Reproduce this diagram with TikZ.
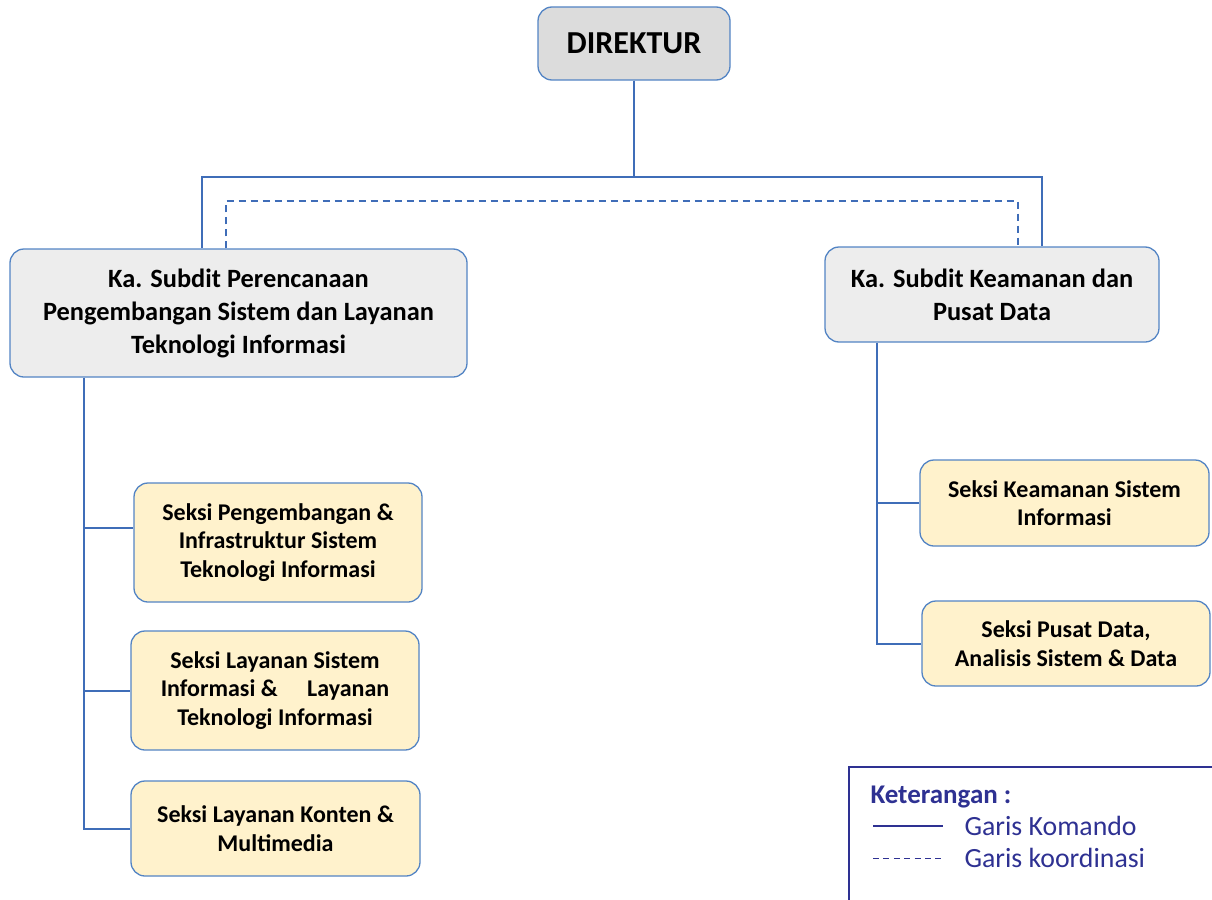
\documentclass[tikz,border=0pt]{standalone}
\usepackage{fontspec}
\setmainfont{Carlito}
\usepackage{xcolor}
\usetikzlibrary{shapes}

\definecolor{garis}{HTML}{3F6DB8}
\definecolor{tepi}{HTML}{5384C4}
\definecolor{abu}{HTML}{DCDCDC}
\definecolor{abumuda}{HTML}{EDEDED}
\definecolor{kuning}{HTML}{FFF2CC}
\definecolor{ungu}{HTML}{2E3192}

\tikzset{
	kotak/.style={draw=tepi,line width=1.3pt,rounded corners=14pt,inner sep=0pt,align=center,font=\bfseries},
	pimpinan/.style={kotak,fill=abu,font=\bfseries\fontsize{32}{38}\selectfont},
	subdit/.style={kotak,fill=abumuda,font=\bfseries\fontsize{26.4}{33}\selectfont},
	seksi/.style={kotak,fill=kuning,font=\bfseries\fontsize{24}{28.5}\selectfont},
	komando/.style={draw=garis,line width=2pt},
	koordinasi/.style={draw=garis,line width=1.6pt,dash pattern=on 7pt off 5pt}
}

\begin{document}
\begin{tikzpicture}[x=1pt,y=-1pt]
	\useasboundingbox (0,0) rectangle (1212,899);
	\node[pimpinan,minimum width=192pt,minimum height=73pt] (dir) at (634,43.5) {DIREKTUR};
	\node[subdit,minimum width=457pt,minimum height=128pt] (subA) at (238.5,313) {Ka. Subdit Perencanaan\\Pengembangan Sistem dan Layanan\\Teknologi Informasi};
	\node[subdit,minimum width=334pt,minimum height=95pt] (subB) at (992,294.5) {Ka. Subdit Keamanan dan\\Pusat Data};
	%
	%  SEKSI
	%
	\node[seksi,minimum width=288pt,minimum height=119pt] (sekA1) at (278,542.5) {Seksi Pengembangan \&\\Infrastruktur Sistem\\Teknologi Informasi};
	\node[seksi,minimum width=288pt,minimum height=119pt] (sekA2) at (275,690.5) {Seksi Layanan Sistem\\Informasi \&\hspace{1em} Layanan\\Teknologi Informasi};
	\node[seksi,minimum width=289pt,minimum height=95pt] (sekA3) at (275.5,828.5) {Seksi Layanan Konten \&\\Multimedia};
	\node[seksi,minimum width=289pt,minimum height=86pt] (sekB1) at (1064.5,503) {Seksi Keamanan Sistem\\Informasi};
	\node[seksi,minimum width=288pt,minimum height=85pt] (sekB2) at (1066,643.5) {Seksi Pusat Data,\\Analisis Sistem \& Data};
	%
	%  GARIS
	%
	\coordinate (busA) at (202,177);
	\coordinate (busB) at (1042,177);
	\coordinate (dashA) at (226,201);
	\coordinate (dashB) at (1018,201);
	\coordinate (trA) at (84,0);
	\coordinate (trB) at (877,0);
	\draw[komando] (dir.south) |- (busA) -- (busA |- subA.north);
	\draw[komando] (dir.south) |- (busB) -- (busB |- subB.north);
	\draw[koordinasi] (dashA |- subA.north) -- (dashA) -- (dashB) -- (dashB |- subB.north);
	\draw[komando] (trA |- subA.south) |- (sekA3.west);
	\draw[komando] (trA |- sekA1.west) ++(0,-15) -- ([yshift=15pt]sekA1.west);
	\draw[komando] (trA |- sekA2.west) -- (sekA2.west);
	\draw[komando] (trB |- subB.south) |- (sekB2.west);
	\draw[komando] (trB |- sekB1.west) -- (sekB1.west);
	%
	%  KETERANGAN
	%
	\node[draw=ungu,line width=1.6pt,minimum width=400pt,minimum height=160pt,anchor=north west] (ket) at (848,766) {};
	\node[anchor=west,text=ungu,font=\bfseries\fontsize{27}{32}\selectfont] (ketjudul) at (867,797) {Keterangan :};
	\node[anchor=west,text=ungu,font=\fontsize{27.8}{32}\selectfont] (ketA) at (961,826) {Garis Komando};
	\node[anchor=west,text=ungu,font=\fontsize{27.8}{32}\selectfont] (ketB) at (961,858) {Garis koordinasi};
	\coordinate (lgA1) at (873,826);
	\coordinate (lgA2) at (943,826);
	\coordinate (lgB1) at (873,858);
	\coordinate (lgB2) at (945,858);
	\draw[draw=ungu,line width=1.8pt] (lgA1) -- (lgA2);
	\draw[draw=ungu,line width=1pt,dash pattern=on 6pt off 4.4pt] (lgB1) -- (lgB2);
\end{tikzpicture}
\end{document}
